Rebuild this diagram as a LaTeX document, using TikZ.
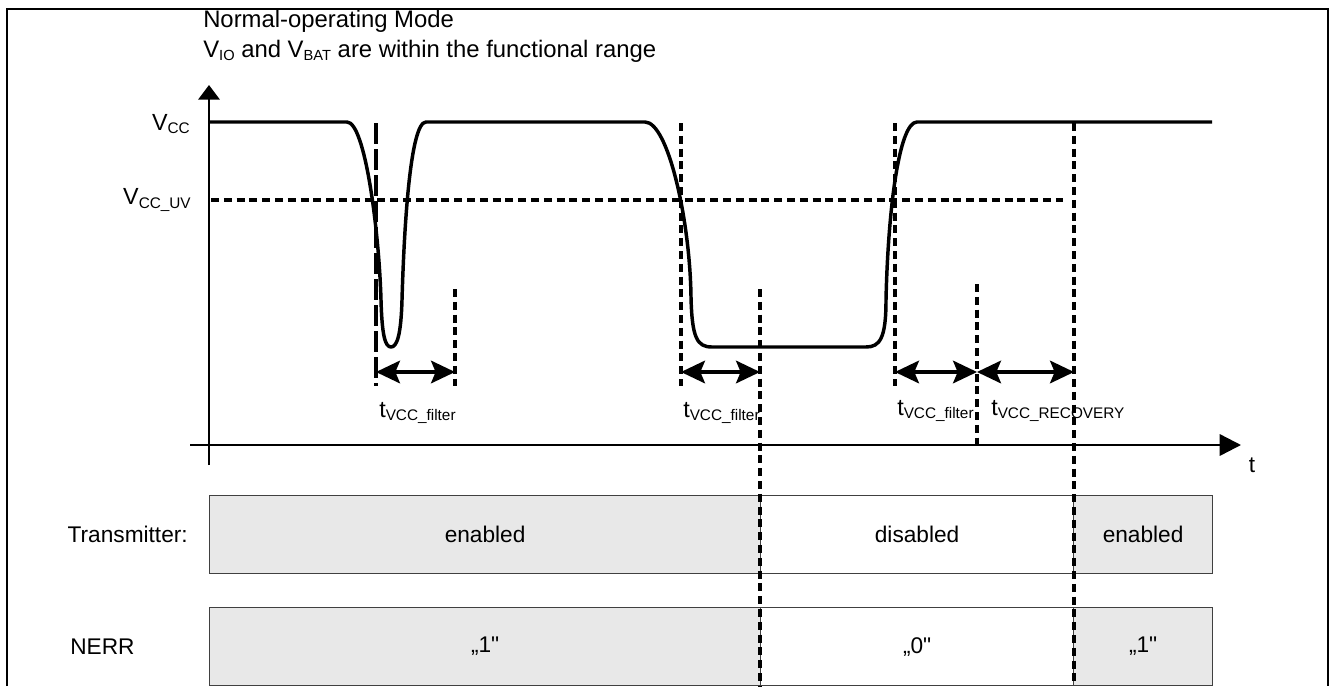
\documentclass[tikz,border=0pt]{standalone}
\usepackage{fontspec}
\setmainfont{Liberation Sans}
\newfontfamily\qfont{Liberation Sans}[Ligatures=TeXOff]
\usetikzlibrary{arrows.meta}
\newcommand\lsub[1]{\raisebox{-0.3ex}{\fontsize{11.5}{12}\selectfont #1}}
\newcommand\tsub[1]{\raisebox{-0.3ex}{\fontsize{11}{12}\selectfont #1}}
\newcommand\sq{{\qfont"}}
\begin{document}
\begin{tikzpicture}[x=0.75pt,y=-0.75pt,
  txt/.style={font=\fontsize{17}{20}\selectfont, inner sep=0pt},
  titletxt/.style={font=\fontsize{17.9}{20}\selectfont, inner sep=0pt},
  bigtxt/.style={font=\fontsize{17.5}{20}\selectfont, inner sep=0pt},
  sig/.style={line width=2.6pt, line join=round, line cap=butt},
  vdash/.style={line width=2.4pt, dash pattern=on 6pt off 3.6pt},
  ldash/.style={line width=2.4pt, dash pattern=on 16pt off 3.5pt},
  dimarrow/.style={line width=2.4pt, {Stealth[length=18pt,width=17pt,inset=3.5pt]}-{Stealth[length=18pt,width=17pt,inset=3.5pt]}},
  axis/.style={line width=1.8pt},
  graybox/.style={draw=black!75, line width=0.9pt, fill=black!9},
  whitebox/.style={draw=black!75, line width=0.9pt, fill=white},
  frame/.style={line width=1.3pt}]
\useasboundingbox (0,0) rectangle (1332,686);
% frame
\coordinate (fbl) at (7,686);
\coordinate (ftl) at (7,9);
\coordinate (ftr) at (1328,9);
\coordinate (fbr) at (1328,686);
\draw[frame] (fbl) -- (ftl) -- (ftr) -- (fbr);

% title
\node[titletxt, anchor=base west] (title1) at (203,27) {Normal-operating Mode};
\node[titletxt, anchor=base west] (title2) at (203,57) {V\tsub{IO} and V\tsub{BAT} are within the functional range};

% boxes (drawn first so dashed lines pass over)
\node[graybox, minimum width=551*0.75pt, minimum height=78*0.75pt, anchor=north west] (tx1) at (209,495) {};
\node[whitebox, minimum width=313*0.75pt, minimum height=78*0.75pt, anchor=north west] (tx2) at (760,495) {};
\node[graybox, minimum width=139*0.75pt, minimum height=78*0.75pt, anchor=north west] (tx3) at (1073,495) {};
\node[graybox, minimum width=551*0.75pt, minimum height=78*0.75pt, anchor=north west] (ne1) at (209,607) {};
\node[whitebox, minimum width=313*0.75pt, minimum height=78*0.75pt, anchor=north west] (ne2) at (760,607) {};
\node[graybox, minimum width=139*0.75pt, minimum height=78*0.75pt, anchor=north west] (ne3) at (1073,607) {};
\node[txt] (tx1t) at (tx1.center) {enabled};
\node[txt] (tx2t) at (tx2.center) {disabled};
\node[txt] (tx3t) at (tx3.center) {enabled};
\node[txt] (ne1t) at (ne1.center) {„1\sq};
\node[txt] (ne2t) at (ne2.center) {„0\sq};
\node[txt] (ne3t) at (ne3.center) {„1\sq};
\node[txt, anchor=east] (txlab) at (188,534) {Transmitter:};
\node[txt, anchor=west] (nelab) at (70,647) {NERR};

% axes
\coordinate (yb) at (209,465);
\coordinate (yt) at (209,85);
\coordinate (xl) at (190,445);
\coordinate (xr) at (1241,445);
\draw[axis, -{Triangle[length=11pt,width=16pt]}] (yb) -- (yt);
\draw[axis, -{Triangle[length=16pt,width=16pt]}] (xl) -- (xr);
\node[txt] (tlab) at (1252,465) {t};

% level labels
\node[bigtxt, anchor=east] (vcc) at (190,124) {V\lsub{CC}};
\node[bigtxt, anchor=east] (vccuv) at (191,200) {V\lsub{CC\_UV}};

% threshold line
\coordinate (uvl) at (211,200);
\coordinate (uvr) at (1063,200);
\draw[vdash] (uvl) -- (uvr);

% vertical dashed markers
\coordinate (d1t) at (376,123); \coordinate (d1b) at (376,386);
\coordinate (d2t) at (455,289); \coordinate (d2b) at (455,386);
\coordinate (d3t) at (681,123); \coordinate (d3b) at (681,386);
\coordinate (d4t) at (760,289); \coordinate (d4b) at (760,686);
\coordinate (d5t) at (895,123); \coordinate (d5b) at (895,386);
\coordinate (d6t) at (977,284); \coordinate (d6b) at (977,445);
\coordinate (d7t) at (1074,123); \coordinate (d7b) at (1074,686);
\draw[ldash] (d1t) -- (d1b);
\draw[vdash] (d2t) -- (d2b);
\draw[vdash] (d3t) -- (d3b);
\draw[vdash] (d4t) -- (d4b);
\draw[vdash] (d5t) -- (d5b);
\draw[vdash] (d6t) -- (d6b);
\draw[vdash] (d7t) -- (d7b);

% signal
\draw[sig] (209,122) -- (347,122)
  .. controls (365,122) and (379,230) .. (381,300)
  .. controls (382,335) and (385,347) .. (391,347)
  .. controls (397,347) and (401,335) .. (402,300)
  .. controls (404,230) and (410,122) .. (426,122)
  -- (645,122)
  .. controls (668,122) and (690,220) .. (691,297)
  .. controls (692,338) and (697,347) .. (712,347)
  -- (866,347)
  .. controls (880,347) and (886,338) .. (886,300)
  .. controls (888,210) and (899,122) .. (917,122)
  -- (1212,122);

% dimension arrows
\coordinate (a1l) at (376,372); \coordinate (a1r) at (455,372);
\coordinate (a2l) at (681,372); \coordinate (a2r) at (760,372);
\coordinate (a3l) at (895,372); \coordinate (a3r) at (977,372);
\coordinate (a4l) at (977,372); \coordinate (a4r) at (1074,372);
\draw[dimarrow] (a1l) -- (a1r);
\draw[dimarrow] (a2l) -- (a2r);
\draw[dimarrow] (a3l) -- (a3r);
\draw[dimarrow] (a4l) -- (a4r);

% timing labels
\node[bigtxt, anchor=west] (l1) at (379,413) {t\lsub{VCC\_filter}};
\node[bigtxt, anchor=west] (l2) at (683,413) {t\lsub{VCC\_filter}};
\node[bigtxt, anchor=west] (l3) at (897,411) {t\lsub{VCC\_filter}};
\node[bigtxt, anchor=west] (l4) at (991,411) {t\lsub{VCC\_RECOVERY}};
\end{tikzpicture}
\end{document}
